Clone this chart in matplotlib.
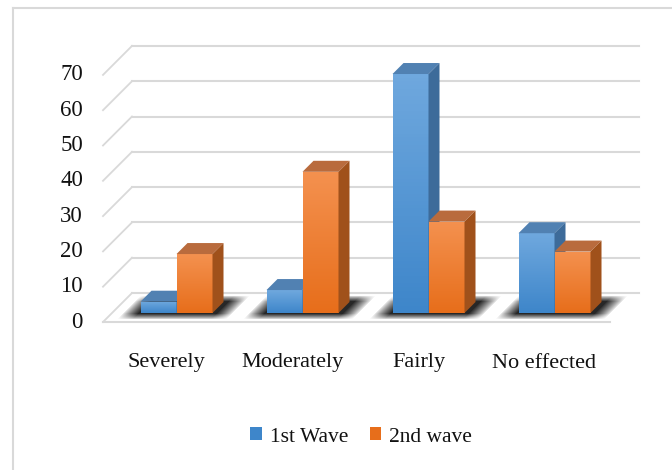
import numpy as np
import matplotlib.pyplot as plt
from matplotlib.patches import Polygon, Patch
from matplotlib.colors import LinearSegmentedColormap

# data (percent of respondents)
categories = ['Severely', 'Moderately', 'Fairly', 'No effected']
wave1 = [3.2, 6.5, 67.7, 22.6]
wave2 = [16.7, 40.0, 25.9, 17.4]
series_names = ['1st Wave', '2nd wave']
yticks = [0, 10, 20, 30, 40, 50, 60, 70]

plt.rcParams['font.family'] = ['Liberation Serif', 'DejaVu Serif']

W, H = 672, 470
fig = plt.figure(figsize=(W / 100, H / 100), dpi=100)
ax = fig.add_axes([0, 0, 1, 1])
ax.axis('off')

# pixel scale: one category slot / one value unit
sx = 126.0
sy = 3.53
x_org = 176.5   # pixel x of first category centre
y_org = 313.0   # pixel y (from top) of bar base

bw = 36 / sx           # bar width
dep = 11               # bar depth in px
front = 9              # floor in front of the bars, px
back = 20              # back wall behind the bar plane, px
left = (112 - x_org) / sx
right = (619 - x_org) / sx

grid_col = '#D9D9D9'

# back wall gridlines + left wall diagonals
for v in yticks:
    yb = v + back / sy
    ax.plot([left + back / sx, right + back / sx], [yb, yb], color=grid_col, lw=1.5, zorder=1)
    ax.plot([left - front / sx, left + back / sx], [v - front / sy, yb], color=grid_col, lw=1.3, zorder=1)
# front edge of the floor
ax.plot([left - front / sx, right - front / sx], [-front / sy, -front / sy], color=grid_col, lw=1.5, zorder=1)

# y tick labels on the front plane
for v in yticks:
    ax.text((83 - x_org) / sx, v - front / sy, str(v), ha='right', va='center', fontsize=16.5, color='#111111')

# category labels
for i, c in enumerate(categories):
    ax.text(i - 10 / sx, (y_org - 363) / sy, c, ha='center', va='center', fontsize=16, color='#111111')

# soft floor shadow: blurred copy of each pair's footprint (sheared by depth)
gx = np.arange(0, 60 + 72 + 40)            # px columns relative to pair left - 30
gy = np.arange(290, 326)                   # px rows (from top)
for i in range(len(categories)):
    xl = x_org + sx * i - 36 - 3            # footprint front-left px
    xr = x_org + sx * i + 36 + 3
    px = (xl - 30) + gx
    PX, PY = np.meshgrid(px, gy)
    u = PX - (y_org - PY)                   # undo the depth shear
    fx = np.clip(1 - (xl - u) / 16, 0, 1) * np.clip(1 - (u - xr) / 16, 0, 1)
    fy = np.clip(1 - (301 - PY) / 6, 0, 1) * np.clip(1 - (PY - 313) / 6, 0, 1)
    alpha = 0.85 * (fx * fy) ** 0.8
    img = np.zeros(alpha.shape + (4,))
    img[..., 3] = alpha
    ext = [(px[0] - x_org) / sx, (px[-1] + 1 - x_org) / sx,
           (y_org - gy[-1] - 1) / sy, (y_org - gy[0]) / sy]
    ax.imshow(img, extent=ext, origin='upper', aspect='auto',
              interpolation='bilinear', zorder=3)

styles = [
    dict(top='#6FA8DE', bot='#3E86CA', cap='#5181B2', side='#3D6B9A'),
    dict(top='#F4914F', bot='#E76E1B', cap='#B96B3D', side='#A0511B'),
]
ddx, ddy = dep / sx, dep / sy
grad = np.linspace(0, 1, 64).reshape(-1, 1)
x = np.arange(len(categories))

for s, (vals, st) in enumerate(zip([wave1, wave2], styles)):
    z = 10 + 2 * s
    off = (-0.5 + s) * bw
    bars = ax.bar(x + off, vals, width=bw, color=st['bot'], zorder=z, linewidth=0)
    cmap = LinearSegmentedColormap.from_list('f%d' % s, [st['bot'], st['top']])
    for rect in bars:
        x0 = rect.get_x()
        x1 = x0 + rect.get_width()
        h = rect.get_height()
        im = ax.imshow(grad, extent=[x0, x1, 0, h], origin='lower', aspect='auto',
                       cmap=cmap, zorder=z + 0.1)
        im.set_clip_path(rect)
        ax.add_patch(Polygon([(x0, h), (x1, h), (x1 + ddx, h + ddy), (x0 + ddx, h + ddy)],
                             closed=True, facecolor=st['cap'], edgecolor='none', zorder=z + 0.2))
        ax.add_patch(Polygon([(x1, 0), (x1 + ddx, ddy), (x1 + ddx, h + ddy), (x1, h)],
                             closed=True, facecolor=st['side'], edgecolor='none', zorder=z + 0.2))

ax.set_xlim(-x_org / sx, (W - x_org) / sx)
ax.set_ylim((y_org - H) / sy, y_org / sy)

# legend
handles = [Patch(facecolor=st['bot'], edgecolor='none') for st in styles]
fig.legend(handles, series_names, loc='center', bbox_to_anchor=(361 / W, 1 - 437 / H),
           ncol=2, frameon=False, fontsize=15.5, handlelength=0.55, handleheight=0.55,
           handletextpad=0.35, columnspacing=1.0, labelcolor='#111111')

# chart area border
fig.add_artist(plt.Line2D([13 / W, 13 / W], [0, 1 - 8 / H], color=grid_col, lw=1.5))
fig.add_artist(plt.Line2D([13 / W, 1], [1 - 8 / H, 1 - 8 / H], color=grid_col, lw=1.5))

fig.savefig('out.png', dpi=100)
